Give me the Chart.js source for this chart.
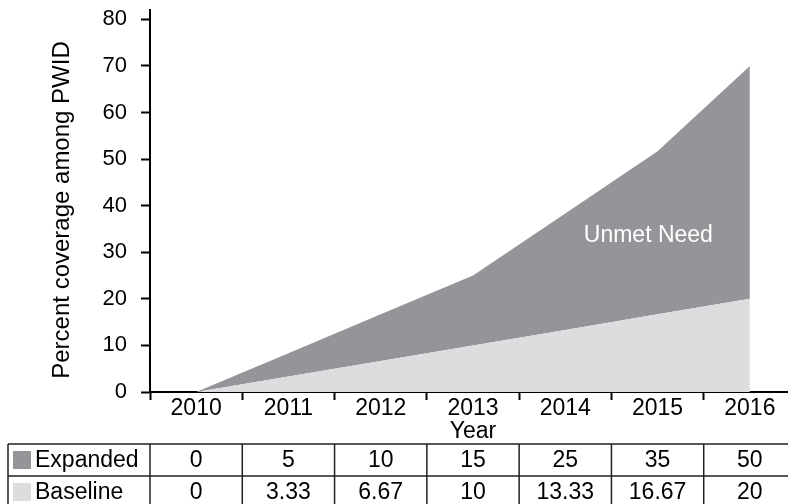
<!DOCTYPE html>
<html>
<head>
<meta charset="utf-8">
<script src="https://cdn.jsdelivr.net/npm/chart.js@4/dist/chart.umd.min.js"></script>
<style>
  html, body { margin: 0; padding: 0; background: #fff; overflow: hidden; }
  #wrap { width: 800px; height: 520px; }
</style>
</head>
<body>
<div id="wrap"><canvas id="coverageChart" width="800" height="520"></canvas></div>
<script>
// ===== DATA =====
const years = ['2010', '2011', '2012', '2013', '2014', '2015', '2016'];
const baseline = [0, 3.33, 6.67, 10, 13.33, 16.67, 20];
const expanded = [0, 5, 10, 15, 25, 35, 50];
const yTicks = [0, 10, 20, 30, 40, 50, 60, 70, 80];

const DARK = '#939598';
const LIGHT = '#dcdddf';
const FONT = '"Liberation Sans", Arial, Helvetica, sans-serif';

// y title, "Unmet Need" label + data table under the x axis
const tablePlugin = {
  id: 'dataTable',
  afterDatasetsDraw(chart) {
    const ctx = chart.ctx;
    const x = chart.scales.x;
    const y = chart.scales.y;

    ctx.save();
    ctx.fillStyle = '#fff';
    ctx.font = '23px ' + FONT;
    ctx.textAlign = 'center';
    ctx.textBaseline = 'middle';
    ctx.fillText('Unmet Need', x.getPixelForValue(4.9), y.getPixelForValue(33.5));
    ctx.restore();

    // y axis title (slightly below the axis middle, as in the original)
    ctx.save();
    ctx.fillStyle = '#000';
    ctx.font = '24px ' + FONT;
    ctx.textAlign = 'center';
    ctx.textBaseline = 'middle';
    ctx.translate(62, 210);
    ctx.rotate(-Math.PI / 2);
    ctx.fillText('Percent coverage among PWID', 0, 0);
    ctx.restore();
  },
  afterDraw(chart) {
    const ctx = chart.ctx;
    const x = chart.scales.x;
    const step = x.getPixelForValue(1) - x.getPixelForValue(0);
    const left = 8;
    const top = 444;
    const rowH = 32;
    const right = chart.chartArea.right;

    const rows = [
      { name: 'Expanded', color: DARK, values: expanded },
      { name: 'Baseline', color: LIGHT, values: baseline }
    ];

    ctx.save();
    ctx.strokeStyle = '#231f20';
    ctx.lineWidth = 1.5;

    // horizontal lines
    for (let r = 0; r <= rows.length; r++) {
      ctx.beginPath();
      ctx.moveTo(left, top + r * rowH);
      ctx.lineTo(right, top + r * rowH);
      ctx.stroke();
    }
    // vertical lines: outer left + category boundaries
    const cols = [left];
    years.forEach((_, i) => cols.push(x.getPixelForValue(i) - step / 2));
    cols.push(right);
    cols.forEach(cx => {
      ctx.beginPath();
      ctx.moveTo(cx, top);
      ctx.lineTo(cx, top + rows.length * rowH);
      ctx.stroke();
    });

    ctx.font = '23px ' + FONT;
    ctx.textBaseline = 'middle';
    rows.forEach((row, r) => {
      const cy = top + r * rowH + rowH / 2;
      ctx.fillStyle = row.color;
      ctx.fillRect(13, cy - 9, 18, 18);
      ctx.fillStyle = '#000';
      ctx.textAlign = 'left';
      ctx.fillText(row.name, 35, cy + 1);
      ctx.textAlign = 'center';
      row.values.forEach((v, i) => {
        ctx.fillText(String(v), x.getPixelForValue(i), cy + 1);
      });
    });
    ctx.restore();
  }
};

function renderChart() {
  const ctx = document.getElementById('coverageChart').getContext('2d');

  new Chart(ctx, {
    type: 'line',
    data: {
      labels: years,
      datasets: [
        {
          label: 'Baseline',
          data: baseline,
          backgroundColor: LIGHT,
          borderWidth: 0,
          pointRadius: 0,
          fill: 'origin'
        },
        {
          label: 'Expanded',
          data: expanded,
          backgroundColor: DARK,
          borderWidth: 0,
          pointRadius: 0,
          fill: '-1'
        }
      ]
    },
    options: {
      responsive: false,
      animation: false,
      layout: { padding: { top: 10, right: 4, bottom: 77, left: 0 } },
      plugins: {
        legend: { display: false },
        tooltip: { enabled: false }
      },
      scales: {
        x: {
          offset: true,
          grid: {
            offset: true,
            drawOnChartArea: false,
            tickLength: 8,
            tickWidth: 2,
            tickColor: '#000'
          },
          border: { color: '#000', width: 2 },
          ticks: {
            color: '#000',
            font: { family: FONT, size: 23, lineHeight: 1 },
            padding: -3,
            maxRotation: 0
          },
          title: {
            display: true,
            text: 'Year',
            color: '#000',
            font: { family: FONT, size: 23, lineHeight: 1 },
            padding: 0
          },
          afterFit(scale) {
            scale.height = 51;
            scale.paddingLeft = 0;
            scale.paddingRight = 0;
          }
        },
        y: {
          stacked: true,
          min: 0,
          max: 82,
          grid: {
            drawOnChartArea: false,
            tickLength: 9,
            tickWidth: 2,
            tickColor: '#000'
          },
          border: { color: '#000', width: 2 },
          ticks: {
            stepSize: 10,
            color: '#000',
            padding: 14,
            font: { family: FONT, size: 22 }
          },
          afterBuildTicks(scale) {
            scale.ticks = yTicks.map(v => ({ value: v }));
          },
          title: { display: false },
          afterFit(scale) {
            scale.width = 150;
            scale.paddingTop = 0;
            scale.paddingBottom = 0;
          }
        }
      }
    },
    plugins: [tablePlugin]
  });
}

renderChart();
</script>
</body>
</html>
